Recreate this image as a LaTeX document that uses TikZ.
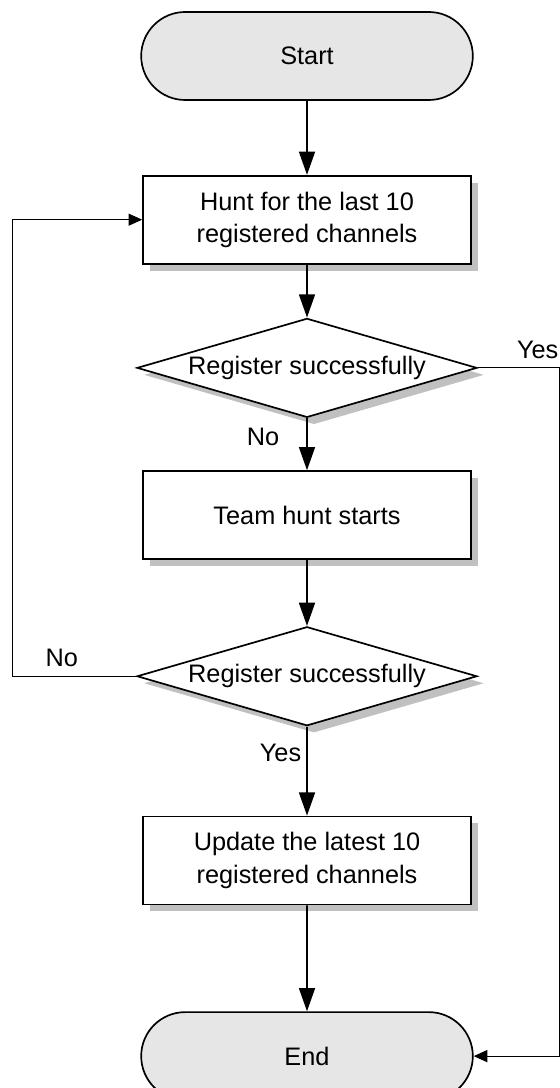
\documentclass[tikz,border=0pt]{standalone}
\usepackage{fontspec}
\setmainfont{Liberation Sans}
\usepackage{tikz}
\usetikzlibrary{shapes.geometric, shapes.misc, arrows.meta, positioning, shadows}
\definecolor{termgray}{RGB}{230, 230, 230}
\definecolor{shadowgray}{RGB}{192, 192, 192}

\begin{document}
\begin{tikzpicture}[
    font=\fontsize{18}{23}\selectfont,
    boxshadow/.style={drop shadow={shadow xshift=0.175cm, shadow yshift=-0.175cm,
                      fill=shadowgray, opacity=1}},
    terminal/.style={draw, line width=1.2pt, rounded rectangle, fill=termgray,
                     minimum width=8.525cm, minimum height=2.2cm},
    process/.style={draw, line width=1.2pt, fill=white, align=center, boxshadow,
                    minimum width=8.2cm, minimum height=2.2cm},
    decision/.style={draw, line width=1.2pt, diamond, aspect=3.43, inner sep=0pt,
                     fill=white, boxshadow, minimum width=8.5cm, minimum height=2.475cm},
    flow/.style={-{Triangle[length=0.58cm, width=0.4cm]}, line width=1.2pt},
    back/.style={-{Triangle[length=0.34cm, width=0.3cm]}, line width=0.8pt},
    lbl/.style={inner sep=0pt}
]
    \useasboundingbox (0,0) rectangle (13.975,-27.2);

    \node[terminal] (start) at (7.675,-1.4) {Start};
    \node[process, below=1.85cm of start] (hunt) {Hunt for the last 10\\registered channels};
    \node[decision, below=1.325cm of hunt] (reg1) {Register successfully};
    \node[process, below=1.3cm of reg1] (team) {Team hunt starts};
    \node[decision, below=1.65cm of team] (reg2) {Register successfully};
    \node[process, below=2.225cm of reg2] (update) {Update the latest 10\\registered channels};
    \node[terminal, below=2.65cm of update] (finish) {End};

    \draw[flow] (start) -- (hunt);
    \draw[flow] (hunt) -- (reg1);
    \draw[flow] (reg1) -- node[lbl, pos=0.35, left=0.675cm] {No} (team);
    \draw[flow] (team) -- (reg2);
    \draw[flow] (reg2) -- node[lbl, pos=0.3, left=0.125cm] {Yes} (update);
    \draw[flow] (update) -- (finish);

    % side branches
    \draw[back] (reg1.east) -- ++(2.05,0) node[lbl, above left=0.225cm and 0.025cm] {Yes} |- (finish.east);
    \draw[back] (reg2.west) -- node[lbl, pos=0.6, above=0.225cm] {No} ++(-3.1,0) |- (hunt.west);
\end{tikzpicture}
\end{document}
